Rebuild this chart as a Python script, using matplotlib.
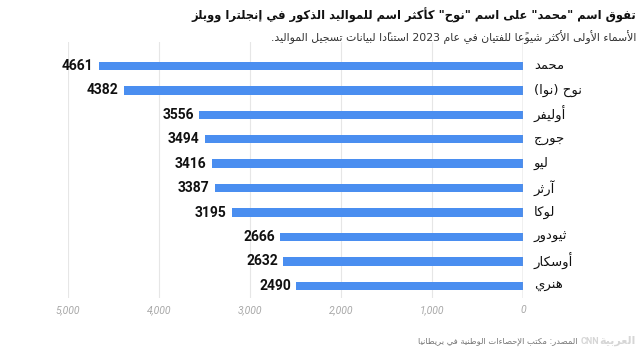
import re
import matplotlib
matplotlib.use("Agg")
import matplotlib.pyplot as plt

names = ["محمد", "نوح (نوا)", "أوليفر", "جورج", "ليو", "آرثر", "لوكا", "ثيودور", "أوسكار", "هنري"]
counts = [4661, 4382, 3556, 3494, 3416, 3387, 3195, 2666, 2632, 2490]
xticks = [0, 1000, 2000, 3000, 4000, 5000]
title = 'تفوق اسم "محمد" على اسم "نوح" كأكثر اسم للمواليد الذكور في إنجلترا وويلز'
subtitle = "الأسماء الأولى الأكثر شيوعًا للفتيان في عام 2023 استنادًا لبيانات تسجيل المواليد."
source = "المصدر: مكتب الإحصاءات الوطنية في بريطانيا"

# arabic presentation forms: isolated, final, initial, medial
FORMS = {
    'ء': (0xFE80,), 'آ': (0xFE81, 0xFE82), 'أ': (0xFE83, 0xFE84), 'ؤ': (0xFE85, 0xFE86),
    'إ': (0xFE87, 0xFE88), 'ئ': (0xFE89, 0xFE8A, 0xFE8B, 0xFE8C), 'ا': (0xFE8D, 0xFE8E),
    'ب': (0xFE8F, 0xFE90, 0xFE91, 0xFE92), 'ة': (0xFE93, 0xFE94),
    'ت': (0xFE95, 0xFE96, 0xFE97, 0xFE98), 'ث': (0xFE99, 0xFE9A, 0xFE9B, 0xFE9C),
    'ج': (0xFE9D, 0xFE9E, 0xFE9F, 0xFEA0), 'ح': (0xFEA1, 0xFEA2, 0xFEA3, 0xFEA4),
    'خ': (0xFEA5, 0xFEA6, 0xFEA7, 0xFEA8), 'د': (0xFEA9, 0xFEAA), 'ذ': (0xFEAB, 0xFEAC),
    'ر': (0xFEAD, 0xFEAE), 'ز': (0xFEAF, 0xFEB0), 'س': (0xFEB1, 0xFEB2, 0xFEB3, 0xFEB4),
    'ش': (0xFEB5, 0xFEB6, 0xFEB7, 0xFEB8), 'ص': (0xFEB9, 0xFEBA, 0xFEBB, 0xFEBC),
    'ض': (0xFEBD, 0xFEBE, 0xFEBF, 0xFEC0), 'ط': (0xFEC1, 0xFEC2, 0xFEC3, 0xFEC4),
    'ظ': (0xFEC5, 0xFEC6, 0xFEC7, 0xFEC8), 'ع': (0xFEC9, 0xFECA, 0xFECB, 0xFECC),
    'غ': (0xFECD, 0xFECE, 0xFECF, 0xFED0), 'ف': (0xFED1, 0xFED2, 0xFED3, 0xFED4),
    'ق': (0xFED5, 0xFED6, 0xFED7, 0xFED8), 'ك': (0xFED9, 0xFEDA, 0xFEDB, 0xFEDC),
    'ل': (0xFEDD, 0xFEDE, 0xFEDF, 0xFEE0), 'م': (0xFEE1, 0xFEE2, 0xFEE3, 0xFEE4),
    'ن': (0xFEE5, 0xFEE6, 0xFEE7, 0xFEE8), 'ه': (0xFEE9, 0xFEEA, 0xFEEB, 0xFEEC),
    'و': (0xFEED, 0xFEEE), 'ى': (0xFEEF, 0xFEF0), 'ي': (0xFEF1, 0xFEF2, 0xFEF3, 0xFEF4),
}
LAMALEF = {'آ': (0xFEF5, 0xFEF6), 'أ': (0xFEF7, 0xFEF8), 'إ': (0xFEF9, 0xFEFA), 'ا': (0xFEFB, 0xFEFC)}
MARKS = set(chr(c) for c in range(0x064B, 0x0653))
MIRROR = {'(': ')', ')': '('}


def shape(text):
    chars = [c for c in text]

    # neighbours, skipping marks
    def prev_letter(i):
        j = i - 1
        while j >= 0 and chars[j] in MARKS:
            j -= 1
        return chars[j] if j >= 0 else None

    def next_letter(i):
        j = i + 1
        while j < len(chars) and chars[j] in MARKS:
            j += 1
        return (chars[j], j) if j < len(chars) else (None, None)

    clusters = []
    i = 0
    while i < len(chars):
        c = chars[i]
        if c in MARKS:
            if clusters:
                clusters[-1] += c
            i += 1
            continue
        if c in FORMS:
            p = prev_letter(i)
            join_prev = p is not None and p in FORMS and len(FORMS[p]) == 4
            n, nj = next_letter(i)
            if c == 'ل' and n in LAMALEF:
                clusters.append(chr(LAMALEF[n][1 if join_prev else 0]))
                i = nj + 1
                continue
            join_next = len(FORMS[c]) == 4 and n in FORMS
            f = FORMS[c]
            if join_prev and join_next:
                g = f[3]
            elif join_prev:
                g = f[1] if len(f) > 1 else f[0]
            elif join_next:
                g = f[2]
            else:
                g = f[0]
            clusters.append(chr(g))
        else:
            clusters.append(MIRROR.get(c, c))
        i += 1
    out = ''.join(reversed(clusters))
    # digits stay left-to-right
    return re.sub(r'[0-9][0-9,.]*[0-9]|[0-9]', lambda m: m.group(0)[::-1], out)


AR = ['DejaVu Sans']
fig = plt.figure(figsize=(6.4, 3.61), dpi=100)
ax = fig.add_axes([68 / 640, 1 - 298 / 361, (523 - 68) / 640, (298 - 42) / 361])

pos = list(range(len(names)))
ax.barh(pos, counts, height=0.34, color='#4a8ef0')
ax.set_xlim(5000, 0)
ax.set_ylim(9.5, -0.98)
ax.set_xticks(xticks)
ax.set_xticklabels([f"{t:,}" for t in xticks], fontsize=7.5, color='#a8a8a8',
                   style='italic', family='Roboto')
ax.set_yticks([])
ax.tick_params(axis='x', length=0, pad=5)
ax.grid(axis='x', color='#e6e6e6', linewidth=0.8)
ax.set_axisbelow(True)
for s in ['top', 'left', 'bottom', 'right']:
    ax.spines[s].set_visible(False)
ax.axvline(0, color='#9a9a9a', linewidth=0.9)

for p, v, n in zip(pos, counts, names):
    ax.text(v + 60, p, str(v), ha='right', va='center', fontsize=10,
            fontweight='bold', family='Roboto', color='#111111')
    ax.text(-120, p, shape(n), ha='left', va='center', fontsize=9.5,
            family=AR, color='#111111')

fig.text(636 / 640, 1 - 15 / 361, shape(title), ha='right', va='center',
         fontsize=8.3, fontweight='bold', family=AR, color='#111111')
fig.text(636 / 640, 1 - 37 / 361, shape(subtitle), ha='right', va='center',
         fontsize=7.8, family=AR, color='#333333')
fig.text(577 / 640, 1 - 341 / 361, shape(source), ha='right', va='center',
         fontsize=6, family=AR, color='#777777')
fig.text(636 / 640, 1 - 341 / 361, shape("العربية"), ha='right', va='center',
         fontsize=8, fontweight='bold', family=AR, color='#d6d6d6')
fig.text(590 / 640, 1 - 341 / 361, "CNN", ha='center', va='center',
         fontsize=6.5, fontweight='bold', family='Roboto', color='#d6d6d6')

fig.savefig('out.png', dpi=100)
